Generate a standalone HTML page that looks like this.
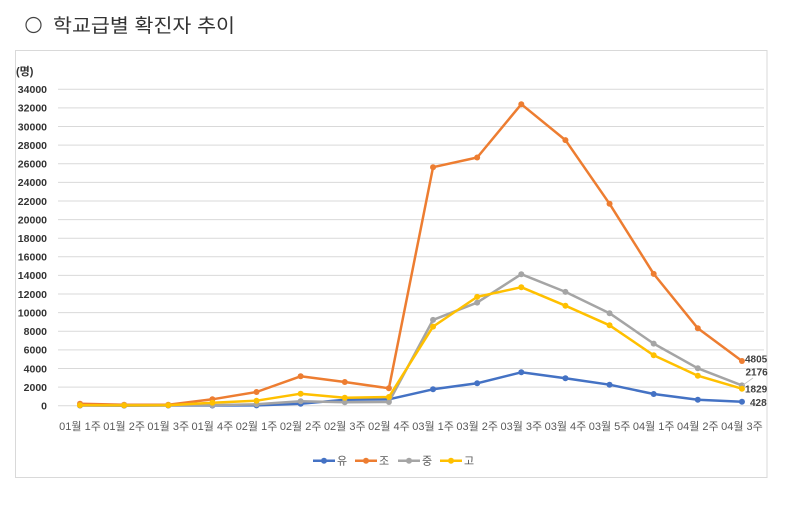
<!DOCTYPE html>
<html>
<head>
<meta charset="utf-8">
<style>
html,body{margin:0;padding:0;background:#fff;}
svg{display:block;}
text{font-family:"Liberation Sans","Noto Sans CJK KR",sans-serif;}
</style>
</head>
<body>
<svg width="786" height="509" viewBox="0 0 786 509" xmlns="http://www.w3.org/2000/svg">
<rect x="0" y="0" width="786" height="509" fill="#fff"/>
<!-- title -->
<circle cx="33.5" cy="25" r="7.5" fill="none" stroke="#444" stroke-width="1.2"/>
<text x="53" y="32" font-size="19" fill="#333" textLength="182" lengthAdjust="spacingAndGlyphs">학교급별 확진자 추이</text>
<!-- chart border -->
<rect x="15.5" y="50.5" width="751.5" height="427" fill="#fff" stroke="#d9d9d9" stroke-width="1"/>
<text x="16" y="75" font-size="11" font-weight="bold" fill="#333">(명)</text>
<!-- gridlines -->
<g stroke="#d9d9d9" stroke-width="1">
<line x1="58" x2="764" y1="405.7" y2="405.7"/>
<line x1="58" x2="764" y1="387.1" y2="387.1"/>
<line x1="58" x2="764" y1="368.5" y2="368.5"/>
<line x1="58" x2="764" y1="349.9" y2="349.9"/>
<line x1="58" x2="764" y1="331.2" y2="331.2"/>
<line x1="58" x2="764" y1="312.6" y2="312.6"/>
<line x1="58" x2="764" y1="294.0" y2="294.0"/>
<line x1="58" x2="764" y1="275.4" y2="275.4"/>
<line x1="58" x2="764" y1="256.8" y2="256.8"/>
<line x1="58" x2="764" y1="238.2" y2="238.2"/>
<line x1="58" x2="764" y1="219.6" y2="219.6"/>
<line x1="58" x2="764" y1="201.0" y2="201.0"/>
<line x1="58" x2="764" y1="182.4" y2="182.4"/>
<line x1="58" x2="764" y1="163.7" y2="163.7"/>
<line x1="58" x2="764" y1="145.1" y2="145.1"/>
<line x1="58" x2="764" y1="126.5" y2="126.5"/>
<line x1="58" x2="764" y1="107.9" y2="107.9"/>
<line x1="58" x2="764" y1="89.3" y2="89.3"/>
</g>
<!-- y labels -->
<g font-size="10.5" font-weight="bold" fill="#333" text-anchor="end">
<text x="47" y="409.5">0</text>
<text x="47" y="390.9">2000</text>
<text x="47" y="372.3">4000</text>
<text x="47" y="353.7">6000</text>
<text x="47" y="335.0">8000</text>
<text x="47" y="316.4">10000</text>
<text x="47" y="297.8">12000</text>
<text x="47" y="279.2">14000</text>
<text x="47" y="260.6">16000</text>
<text x="47" y="242.0">18000</text>
<text x="47" y="223.4">20000</text>
<text x="47" y="204.8">22000</text>
<text x="47" y="186.2">24000</text>
<text x="47" y="167.5">26000</text>
<text x="47" y="148.9">28000</text>
<text x="47" y="130.3">30000</text>
<text x="47" y="111.7">32000</text>
<text x="47" y="93.1">34000</text>
</g>
<!-- x labels -->
<g font-size="11" fill="#595959" text-anchor="middle">
<text x="80" y="430">01월 1주</text>
<text x="124.13" y="430">01월 2주</text>
<text x="168.26" y="430">01월 3주</text>
<text x="212.39" y="430">01월 4주</text>
<text x="256.52" y="430">02월 1주</text>
<text x="300.65" y="430">02월 2주</text>
<text x="344.78" y="430">02월 3주</text>
<text x="388.91" y="430">02월 4주</text>
<text x="433.04" y="430">03월 1주</text>
<text x="477.17" y="430">03월 2주</text>
<text x="521.3" y="430">03월 3주</text>
<text x="565.43" y="430">03월 4주</text>
<text x="609.56" y="430">03월 5주</text>
<text x="653.69" y="430">04월 1주</text>
<text x="697.82" y="430">04월 2주</text>
<text x="741.95" y="430">04월 3주</text>
</g>
<!-- series 유 -->
<g stroke="#4472C4" fill="#4472C4">
<polyline fill="none" stroke-width="2.5" stroke-linejoin="round" points="80,405.5 124.13,405.6 168.26,405.5 212.39,405.5 256.52,405.4 300.65,403.7 344.78,399.7 388.91,399.3 433.04,389.3 477.17,383.3 521.3,372.3 565.43,378.3 609.56,384.7 653.69,394.0 697.82,399.7 741.95,401.7"/>
<g stroke="none">
<circle cx="80" cy="405.5" r="3"/><circle cx="124.13" cy="405.6" r="3"/><circle cx="168.26" cy="405.5" r="3"/><circle cx="212.39" cy="405.5" r="3"/><circle cx="256.52" cy="405.4" r="3"/><circle cx="300.65" cy="403.7" r="3"/><circle cx="344.78" cy="399.7" r="3"/><circle cx="388.91" cy="399.3" r="3"/><circle cx="433.04" cy="389.3" r="3"/><circle cx="477.17" cy="383.3" r="3"/><circle cx="521.3" cy="372.3" r="3"/><circle cx="565.43" cy="378.3" r="3"/><circle cx="609.56" cy="384.7" r="3"/><circle cx="653.69" cy="394.0" r="3"/><circle cx="697.82" cy="399.7" r="3"/><circle cx="741.95" cy="401.7" r="3"/>
</g>
</g>
<!-- series 조 -->
<g stroke="#ED7D31" fill="#ED7D31">
<polyline fill="none" stroke-width="2.5" stroke-linejoin="round" points="80,403.7 124.13,404.8 168.26,404.8 212.39,399.3 256.52,392.0 300.65,376.3 344.78,382.0 388.91,388.3 433.04,167.2 477.17,157.5 521.3,104.2 565.43,140.1 609.56,203.8 653.69,273.9 697.82,328.3 741.95,361.0"/>
<g stroke="none">
<circle cx="80" cy="403.7" r="3"/><circle cx="124.13" cy="404.8" r="3"/><circle cx="168.26" cy="404.8" r="3"/><circle cx="212.39" cy="399.3" r="3"/><circle cx="256.52" cy="392.0" r="3"/><circle cx="300.65" cy="376.3" r="3"/><circle cx="344.78" cy="382.0" r="3"/><circle cx="388.91" cy="388.3" r="3"/><circle cx="433.04" cy="167.2" r="3"/><circle cx="477.17" cy="157.5" r="3"/><circle cx="521.3" cy="104.2" r="3"/><circle cx="565.43" cy="140.1" r="3"/><circle cx="609.56" cy="203.8" r="3"/><circle cx="653.69" cy="273.9" r="3"/><circle cx="697.82" cy="328.3" r="3"/><circle cx="741.95" cy="361.0" r="3"/>
</g>
</g>
<!-- series 중 -->
<g stroke="#A5A5A5" fill="#A5A5A5">
<polyline fill="none" stroke-width="2.5" stroke-linejoin="round" points="80,405.2 124.13,405.2 168.26,405.2 212.39,405.1 256.52,404.3 300.65,401.3 344.78,402.3 388.91,402.0 433.04,319.9 477.17,302.6 521.3,274.2 565.43,291.9 609.56,313.2 653.69,343.6 697.82,368.3 741.95,385.4"/>
<g stroke="none">
<circle cx="80" cy="405.2" r="3"/><circle cx="124.13" cy="405.2" r="3"/><circle cx="168.26" cy="405.2" r="3"/><circle cx="212.39" cy="405.1" r="3"/><circle cx="256.52" cy="404.3" r="3"/><circle cx="300.65" cy="401.3" r="3"/><circle cx="344.78" cy="402.3" r="3"/><circle cx="388.91" cy="402.0" r="3"/><circle cx="433.04" cy="319.9" r="3"/><circle cx="477.17" cy="302.6" r="3"/><circle cx="521.3" cy="274.2" r="3"/><circle cx="565.43" cy="291.9" r="3"/><circle cx="609.56" cy="313.2" r="3"/><circle cx="653.69" cy="343.6" r="3"/><circle cx="697.82" cy="368.3" r="3"/><circle cx="741.95" cy="385.4" r="3"/>
</g>
</g>
<!-- series 고 -->
<g stroke="#FFC000" fill="#FFC000">
<polyline fill="none" stroke-width="2.5" stroke-linejoin="round" points="80,405.2 124.13,405.4 168.26,405.2 212.39,402.7 256.52,400.7 300.65,393.7 344.78,397.7 388.91,397.0 433.04,326.6 477.17,296.9 521.3,287.2 565.43,305.7 609.56,325.3 653.69,355.3 697.82,375.7 741.95,388.7"/>
<g stroke="none">
<circle cx="80" cy="405.2" r="3"/><circle cx="124.13" cy="405.4" r="3"/><circle cx="168.26" cy="405.2" r="3"/><circle cx="212.39" cy="402.7" r="3"/><circle cx="256.52" cy="400.7" r="3"/><circle cx="300.65" cy="393.7" r="3"/><circle cx="344.78" cy="397.7" r="3"/><circle cx="388.91" cy="397.0" r="3"/><circle cx="433.04" cy="326.6" r="3"/><circle cx="477.17" cy="296.9" r="3"/><circle cx="521.3" cy="287.2" r="3"/><circle cx="565.43" cy="305.7" r="3"/><circle cx="609.56" cy="325.3" r="3"/><circle cx="653.69" cy="355.3" r="3"/><circle cx="697.82" cy="375.7" r="3"/><circle cx="741.95" cy="388.7" r="3"/>
</g>
</g>
<!-- data labels -->
<line x1="743" y1="385" x2="753" y2="378" stroke="#bfbfbf" stroke-width="0.8"/>
<g font-size="10" font-weight="bold" fill="#404040">
<text x="745" y="362.5">4805</text>
<text x="745.5" y="375.5">2176</text>
<text x="745" y="392.5">1829</text>
<text x="750" y="406.2">428</text>
</g>
<!-- legend -->
<g stroke-width="2.5">
<line x1="313" y1="460.7" x2="335" y2="460.7" stroke="#4472C4"/>
<circle cx="324" cy="460.7" r="3" fill="#4472C4"/>
<line x1="355" y1="460.7" x2="377" y2="460.7" stroke="#ED7D31"/>
<circle cx="366" cy="460.7" r="3" fill="#ED7D31"/>
<line x1="398" y1="460.7" x2="420" y2="460.7" stroke="#A5A5A5"/>
<circle cx="409" cy="460.7" r="3" fill="#A5A5A5"/>
<line x1="440" y1="460.7" x2="462" y2="460.7" stroke="#FFC000"/>
<circle cx="451" cy="460.7" r="3" fill="#FFC000"/>
</g>
<g font-size="11" fill="#595959">
<text x="337" y="464.7">유</text>
<text x="379" y="464.7">조</text>
<text x="422" y="464.7">중</text>
<text x="464" y="464.7">고</text>
</g>
</svg>
</body>
</html>
